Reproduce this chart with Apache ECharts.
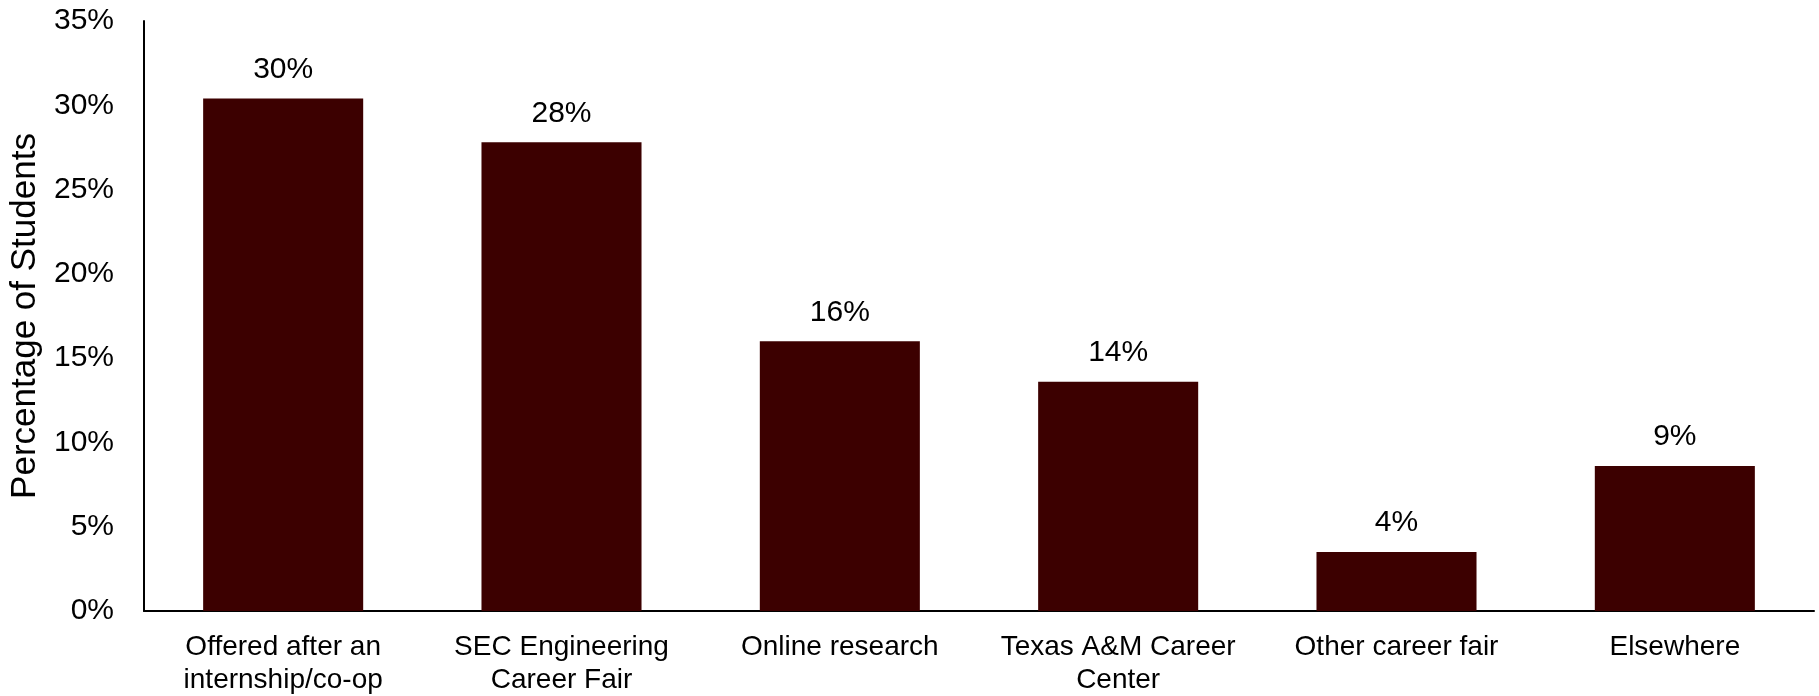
<!DOCTYPE html>
<html>
<head>
<meta charset="utf-8">
<script src="https://cdn.jsdelivr.net/npm/echarts@6/dist/echarts.min.js"></script>
<style>
html,body{margin:0;padding:0;background:#fff;}
#chart{width:1819px;height:696px;}
</style>
</head>
<body>
<div id="chart"></div>
<script>
const categories = [
  'Offered after an\ninternship/co-op',
  'SEC Engineering\nCareer Fair',
  'Online research',
  'Texas A&M Career\nCenter',
  'Other career fair',
  'Elsewhere'
];
const values = [30.4, 27.8, 16.0, 13.6, 3.5, 8.6];
const yTicks = [0, 5, 10, 15, 20, 25, 30, 35];
const yAxisTitle = 'Percentage of Students';

const FONT = '"Liberation Sans", Arial, sans-serif';
const chart = echarts.init(document.getElementById('chart'));
chart.setOption({
  animation: false,
  grid: { left: 144, right: 5, top: 21, bottom: 85, containLabel: false, outerBoundsMode: 'none' },
  xAxis: {
    type: 'category',
    data: categories,
    axisLine: { lineStyle: { color: '#000', width: 2 } },
    axisTick: { show: false },
    axisLabel: {
      color: '#000', fontFamily: FONT, fontSize: 28, lineHeight: 33,
      margin: 20, interval: 0
    }
  },
  yAxis: {
    type: 'value',
    min: yTicks[0], max: yTicks[yTicks.length - 1], interval: 5,
    name: yAxisTitle,
    nameLocation: 'middle',
    nameGap: 100,
    nameTextStyle: { color: '#000', fontFamily: FONT, fontSize: 35 },
    axisLine: { show: true, lineStyle: { color: '#000', width: 2 } },
    axisTick: { show: false },
    splitLine: { show: false },
    axisLabel: {
      color: '#000', fontFamily: FONT, fontSize: 30, margin: 30,
      formatter: v => v + '%'
    }
  },
  series: [{
    type: 'bar',
    data: values,
    barWidth: '57.5%',
    itemStyle: { color: '#3C0000' },
    label: {
      show: true, position: 'top', distance: 14,
      color: '#000', fontFamily: FONT, fontSize: 30,
      formatter: p => Math.round(p.value) + '%'
    }
  }]
});
</script>
</body>
</html>
